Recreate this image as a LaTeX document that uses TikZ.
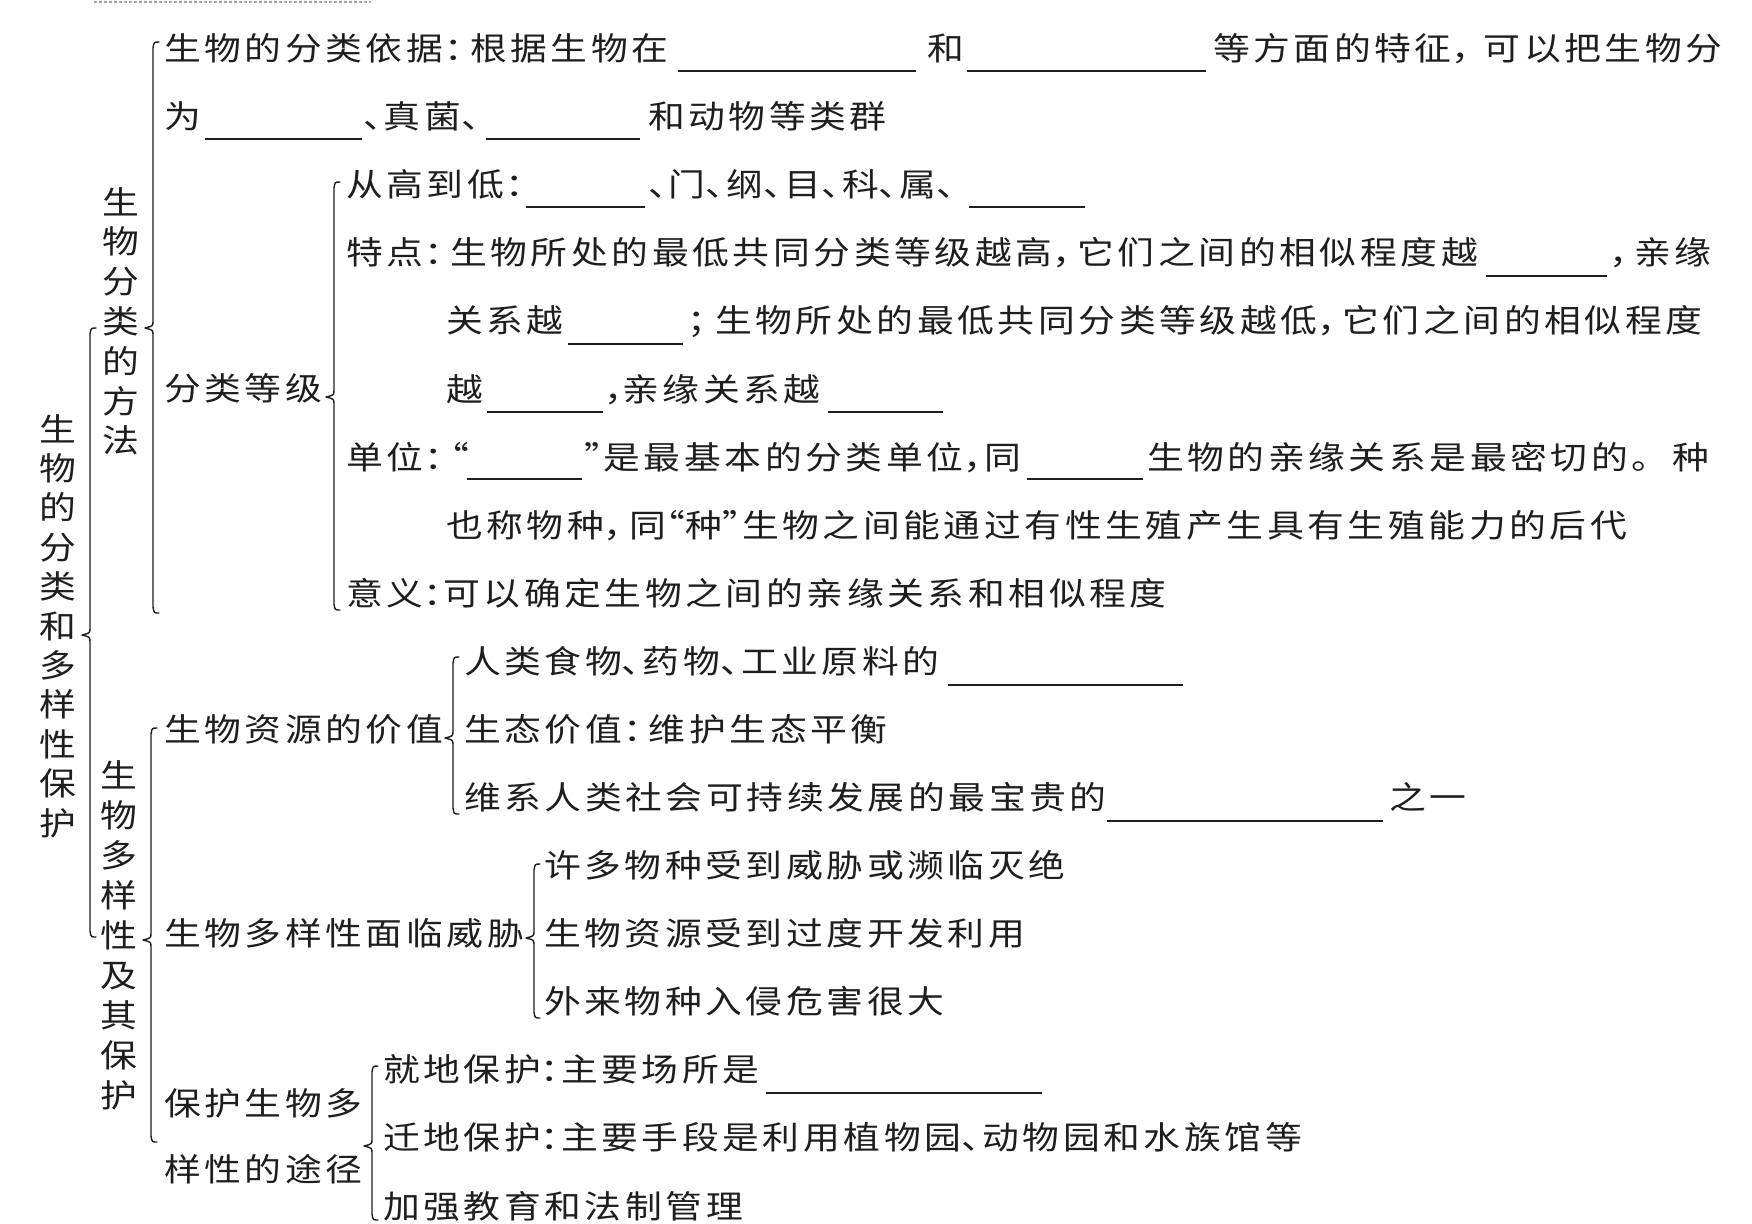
\documentclass[tikz,border=0pt]{standalone}
\usepackage{fontspec}
\usepackage{graphicx}
\newfontfamily\cn[LetterSpace=9.78]{Noto Sans CJK SC}
\definecolor{ink}{HTML}{1E1E1E}
\newcommand\sx[1]{\scalebox{1.15}[1]{#1}}
\newcommand\pl[2]{\makebox[#1][l]{#2}}
\newcommand\pr[2]{\makebox[#1][r]{#2}}
\newcommand\cln{\pl{11.7pt}{\hspace{0.5pt}：}}
\newcommand\ncln{\pl{8.7pt}{：}}
\newcommand\cma{\pl{10.9pt}{，}}
\newcommand\smc{\pl{12.2pt}{；}}
\newcommand\dn{\pl{9.1pt}{、}}
\newcommand\lqt{\pr{8.5pt}{“}}
\newcommand\rqt{\pl{8.5pt}{”}}
\tikzset{
  txt/.style={anchor=base west, inner sep=0pt, outer sep=0pt, text=ink,
    font=\cn\fontsize{16}{19.75}\selectfont},
  vtxt/.style={anchor=base, inner sep=0pt, outer sep=0pt, text=ink,
    font=\cn\fontsize{16}{19.75}\selectfont},
  bracestyle/.style={draw=ink, line width=0.7pt, line cap=round, line join=round},
  blank/.style={draw=ink, line width=0.75pt}
}
\newcommand\mybrace[4]{%
  \draw[bracestyle] ({#1+6},#2) .. controls ({#1+1},#2) .. (#1,{#2+6})
    -- (#1,{#3-7}) .. controls (#1,{#3-2}) .. ({#1-8},#3)
    .. controls (#1,{#3+2}) .. (#1,{#3+7})
    -- (#1,{#4-6}) .. controls ({#1+1},#4) .. ({#1+6},#4);}
\newcommand\blankline[3]{\draw[blank] (#1,#3) -- (#2,#3);}
\begin{document}
\begin{tikzpicture}[x=0.5pt,y=-0.5pt]
\useasboundingbox[fill=white] (0,0) rectangle (1752,1223);
% faint dotted rule at the top
\draw[gray!70, line width=1pt, dash pattern=on 1.5pt off 1pt] (94,2) -- (371,2);

% vertical titles
\foreach \c [count=\i] in {生,物,的,分,类,和,多,样,性,保,护}
  \node[vtxt] (root\i) at (58,{429+12+39.4*(\i-1)}) {\sx{\c}};
\foreach \c [count=\i] in {生,物,分,类,的,方,法}
  \node[vtxt] (meth\i) at (121,{202+12+39.8*(\i-1)}) {\sx{\c}};
\foreach \c [count=\i] in {生,物,多,样,性,及,其,保,护}
  \node[vtxt] (div\i) at (119,{775+12+40*(\i-1)}) {\sx{\c}};

% braces
\mybrace{90}{328}{635}{937}
\mybrace{153}{42}{328}{613}
\mybrace{151}{728}{940}{1142}
\mybrace{334}{182}{397}{610}
\mybrace{453}{657}{738}{814}
\mybrace{534}{864}{938}{1018}
\mybrace{372}{1066}{1146}{1220}

% row 0
\node[txt] (n00) at (164,60) {\sx{生物的分类依据\cln 根据生物在}};
\blankline{678}{916}{71}
\node[txt] (n01) at (927,60) {\sx{和}};
\blankline{967}{1206}{71}
\node[txt] (n02) at (1213,60) {\sx{等方面的特征\pl{13.9pt}{，}可以把生物分}};
% row 1
\node[txt] (n10) at (164,128) {\sx{为}};
\blankline{205}{362}{139}
\node[txt] (n11) at (363,128) {\sx{\dn 真菌\dn}};
\blankline{486}{640}{139}
\node[txt] (n12) at (648,128) {\sx{和动物等类群}};
% row 2
\node[txt] (n20) at (346,196) {\sx{从高到低\cln}};
\blankline{526}{645}{207}
\node[txt] (n21) at (648,196) {\sx{\dn 门\dn 纲\dn 目\dn 科\dn 属\dn}};
\blankline{969}{1085}{207}
% row 3
\node[txt] (n30) at (346,264) {\sx{特点\cln 生物所处的最低共同分类等级越高\cma 它们之间的相似程度越}};
\blankline{1486}{1607}{276}
\node[txt] (n31) at (1609,264) {\sx{\cma 亲缘}};
% row 4
\node[txt] (n40) at (446,332) {\sx{关系越}};
\blankline{568}{683}{344}
\node[txt] (n41) at (687,332) {\sx{\smc 生物所处的最低共同分类等级越低\cma 它们之间的相似程度}};
% row 5
\node[txt] (grade) at (164,400) {\sx{分类等级}};
\node[txt] (n50) at (446,401) {\sx{越}};
\blankline{487}{603}{412}
\node[txt] (n51) at (604,401) {\sx{\pl{8pt}{，}亲缘关系越}};
\blankline{828}{943}{412}
% row 6
\node[txt] (n60) at (346,469) {\sx{单位\cln\lqt}};
\blankline{467}{582}{479}
\node[txt] (n61) at (584,469) {\sx{\rqt 是最基本的分类单位\pl{9pt}{，}同}};
\blankline{1027}{1143}{479}
\node[txt] (n62) at (1147,469) {\sx{生物的亲缘关系是最密切的。种}};
% row 7
\node[txt] (n70) at (446,537) {\sx{也称物种\pl{11pt}{，}同\lqt 种\rqt 生物之间能通过有性生殖产生具有生殖能力的后代}};
% row 8
\node[txt] (n80) at (346,605) {\sx{意义\ncln 可以确定生物之间的亲缘关系和相似程度}};
% row 9
\node[txt] (n90) at (464,673) {\sx{人类食物\dn 药物\dn 工业原料的}};
\blankline{948}{1183}{685}
% row 10
\node[txt] (value) at (164,741) {\sx{生物资源的价值}};
\node[txt] (n100) at (464,741) {\sx{生态价值\cln 维护生态平衡}};
% row 11
\node[txt] (n110) at (464,809) {\sx{维系人类社会可持续发展的最宝贵的}};
\blankline{1107}{1383}{821}
\node[txt] (n111) at (1389,809) {\sx{之一}};
% rows 12-14
\node[txt] (n120) at (544,877) {\sx{许多物种受到威胁或濒临灭绝}};
\node[txt] (threat) at (164,945) {\sx{生物多样性面临威胁}};
\node[txt] (n130) at (544,945) {\sx{生物资源受到过度开发利用}};
\node[txt] (n140) at (544,1013) {\sx{外来物种入侵危害很大}};
% rows 15-17
\node[txt] (n150) at (383,1081) {\sx{就地保护\ncln 主要场所是}};
\blankline{766}{1042}{1093}
\node[txt] (prot1) at (164,1115) {\sx{保护生物多}};
\node[txt] (prot2) at (164,1181) {\sx{样性的途径}};
\node[txt] (n160) at (383,1149) {\sx{迁地保护\ncln 主要手段是利用植物园\dn 动物园和水族馆等}};
\node[txt] (n170) at (383,1218) {\sx{加强教育和法制管理}};
\end{tikzpicture}
\end{document}
